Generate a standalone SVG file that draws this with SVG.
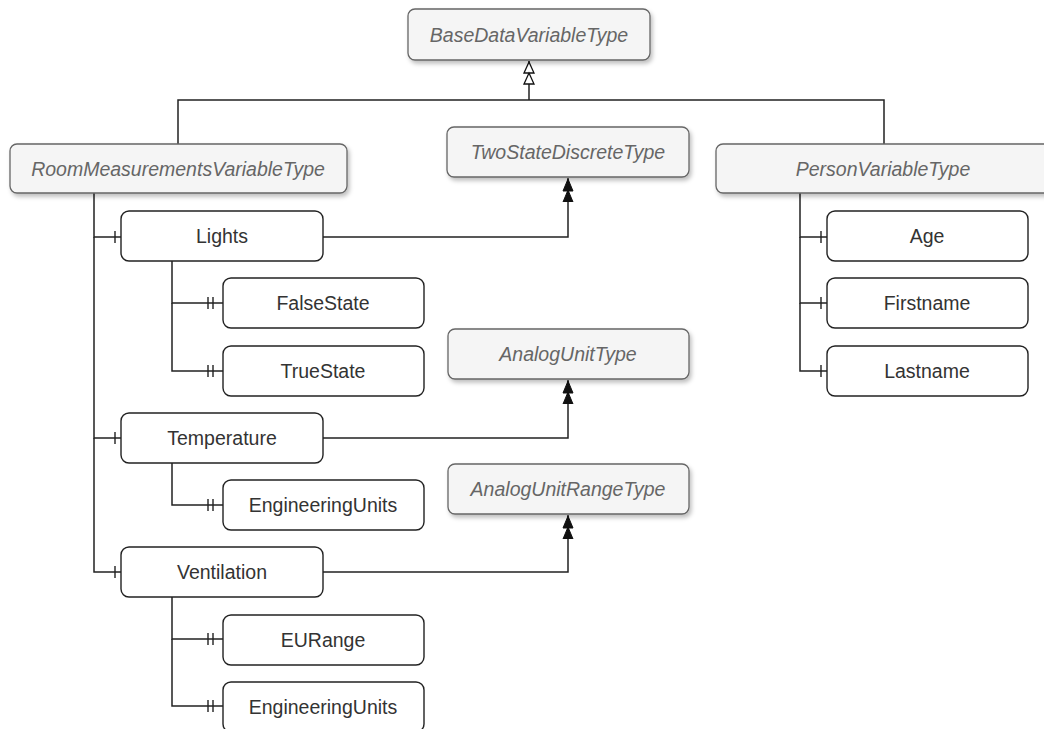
<svg xmlns="http://www.w3.org/2000/svg" width="1044" height="729" viewBox="0 0 1044 729">
  <style>
    .type rect { fill: #f5f5f5; stroke: #666666; stroke-width: 1.3; filter: url(#shadow); }
    .type text { font-family: "Liberation Sans", Arial, sans-serif; font-style: italic; font-size: 19.5px; fill: #666666; text-anchor: middle; dominant-baseline: central; }
    .item rect { fill: #ffffff; stroke: #222222; stroke-width: 1.4; }
    .item text { font-family: "Liberation Sans", Arial, sans-serif; font-size: 19.5px; fill: #333333; text-anchor: middle; dominant-baseline: central; }
    .edges path { fill: none; stroke: #222222; stroke-width: 1.5; }
  </style>
  <defs>
    <filter id="shadow" x="-10%" y="-20%" width="130%" height="160%">
      <feDropShadow dx="2" dy="3" stdDeviation="2" flood-color="#000000" flood-opacity="0.25"/>
    </filter>
    <!-- filled double arrowhead -->
    <marker id="dblBlock" markerUnits="userSpaceOnUse" viewBox="0 0 24 12" refX="24" refY="6" markerWidth="24" markerHeight="12" orient="auto">
      <path d="M0,1 L12,6 L0,11 Z M11,1 L23,6 L11,11 Z" fill="#111111" stroke="#111111" stroke-width="1"/>
    </marker>
    <!-- hollow double arrowhead (inheritance) -->
    <marker id="dblHollow" markerUnits="userSpaceOnUse" viewBox="0 0 24 12" refX="24" refY="6" markerWidth="24" markerHeight="12" orient="auto">
      <path d="M1,1 L12,6 L1,11 Z M12,1 L23,6 L12,11 Z" fill="#ffffff" stroke="#111111" stroke-width="1.3"/>
    </marker>
    <!-- single tick (one) -->
    <marker id="erOne" markerUnits="userSpaceOnUse" viewBox="0 -7 12 14" refX="12" refY="0" markerWidth="12" markerHeight="14" orient="auto">
      <path d="M6,-6 V6" stroke="#222222" stroke-width="1.4"/>
    </marker>
    <!-- double tick (mandatory one) -->
    <marker id="erMand" markerUnits="userSpaceOnUse" viewBox="0 -7 16 14" refX="16" refY="0" markerWidth="16" markerHeight="14" orient="auto">
      <path d="M1,-6 V6 M6,-6 V6" stroke="#222222" stroke-width="1.4"/>
    </marker>
  </defs>

  <g class="edges" id="connectors">
    <!-- inheritance from BaseDataVariableType -->
    <path d="M178,144 V100 H884 V144"/>
    <path d="M529,100 V61" marker-end="url(#dblHollow)"/>
    <!-- RoomMeasurementsVariableType members -->
    <path d="M94,193 V237 H121" marker-end="url(#erOne)"/>
    <path d="M94,237 V438 H121" marker-end="url(#erOne)"/>
    <path d="M94,438 V572 H121" marker-end="url(#erOne)"/>
    <!-- Lights children -->
    <path d="M172,261 V303 H223" marker-end="url(#erMand)"/>
    <path d="M172,303 V371 H223" marker-end="url(#erMand)"/>
    <!-- Temperature child -->
    <path d="M172,463 V505 H223" marker-end="url(#erMand)"/>
    <!-- Ventilation children -->
    <path d="M172,597 V639 H223" marker-end="url(#erMand)"/>
    <path d="M172,639 V706 H223" marker-end="url(#erMand)"/>
    <!-- type definitions -->
    <path d="M323,237 H568 V178" marker-end="url(#dblBlock)"/>
    <path d="M323,438 H568 V380" marker-end="url(#dblBlock)"/>
    <path d="M323,572 H568 V515" marker-end="url(#dblBlock)"/>
    <!-- PersonVariableType members -->
    <path d="M800,193 V237 H827" marker-end="url(#erOne)"/>
    <path d="M800,237 V303 H827" marker-end="url(#erOne)"/>
    <path d="M800,303 V371 H827" marker-end="url(#erOne)"/>
  </g>

  <g id="BaseDataVariableType" class="type">
    <rect x="408" y="9" width="242" height="51" rx="7"/>
    <text x="529" y="35">BaseDataVariableType</text>
  </g>
  <g id="RoomMeasurementsVariableType" class="type">
    <rect x="10" y="144" width="337" height="49" rx="7"/>
    <text x="178" y="169">RoomMeasurementsVariableType</text>
  </g>
  <g id="TwoStateDiscreteType" class="type">
    <rect x="447" y="127" width="242" height="50" rx="7"/>
    <text x="568" y="152">TwoStateDiscreteType</text>
  </g>
  <g id="PersonVariableType" class="type">
    <rect x="716" y="144" width="335" height="49" rx="7"/>
    <text x="883" y="169">PersonVariableType</text>
  </g>
  <g id="AnalogUnitType" class="type">
    <rect x="448" y="329" width="241" height="50" rx="7"/>
    <text x="568" y="354">AnalogUnitType</text>
  </g>
  <g id="AnalogUnitRangeType" class="type">
    <rect x="448" y="464" width="241" height="50" rx="7"/>
    <text x="568" y="489">AnalogUnitRangeType</text>
  </g>

  <g id="Lights" class="item">
    <rect x="121" y="211" width="202" height="50" rx="8"/>
    <text x="222" y="236">Lights</text>
  </g>
  <g id="FalseState" class="item">
    <rect x="223" y="278" width="201" height="50" rx="8"/>
    <text x="323" y="303">FalseState</text>
  </g>
  <g id="TrueState" class="item">
    <rect x="223" y="346" width="201" height="50" rx="8"/>
    <text x="323" y="371">TrueState</text>
  </g>
  <g id="Temperature" class="item">
    <rect x="121" y="413" width="202" height="50" rx="8"/>
    <text x="222" y="438">Temperature</text>
  </g>
  <g id="TemperatureEngineeringUnits" class="item">
    <rect x="223" y="480" width="201" height="50" rx="8"/>
    <text x="323" y="505">EngineeringUnits</text>
  </g>
  <g id="Ventilation" class="item">
    <rect x="121" y="547" width="202" height="50" rx="8"/>
    <text x="222" y="572">Ventilation</text>
  </g>
  <g id="EURange" class="item">
    <rect x="223" y="615" width="201" height="50" rx="8"/>
    <text x="323" y="640">EURange</text>
  </g>
  <g id="VentilationEngineeringUnits" class="item">
    <rect x="223" y="682" width="201" height="50" rx="8"/>
    <text x="323" y="707">EngineeringUnits</text>
  </g>
  <g id="Age" class="item">
    <rect x="827" y="211" width="201" height="50" rx="8"/>
    <text x="927" y="236">Age</text>
  </g>
  <g id="Firstname" class="item">
    <rect x="827" y="278" width="201" height="50" rx="8"/>
    <text x="927" y="303">Firstname</text>
  </g>
  <g id="Lastname" class="item">
    <rect x="827" y="346" width="201" height="50" rx="8"/>
    <text x="927" y="371">Lastname</text>
  </g>
</svg>
